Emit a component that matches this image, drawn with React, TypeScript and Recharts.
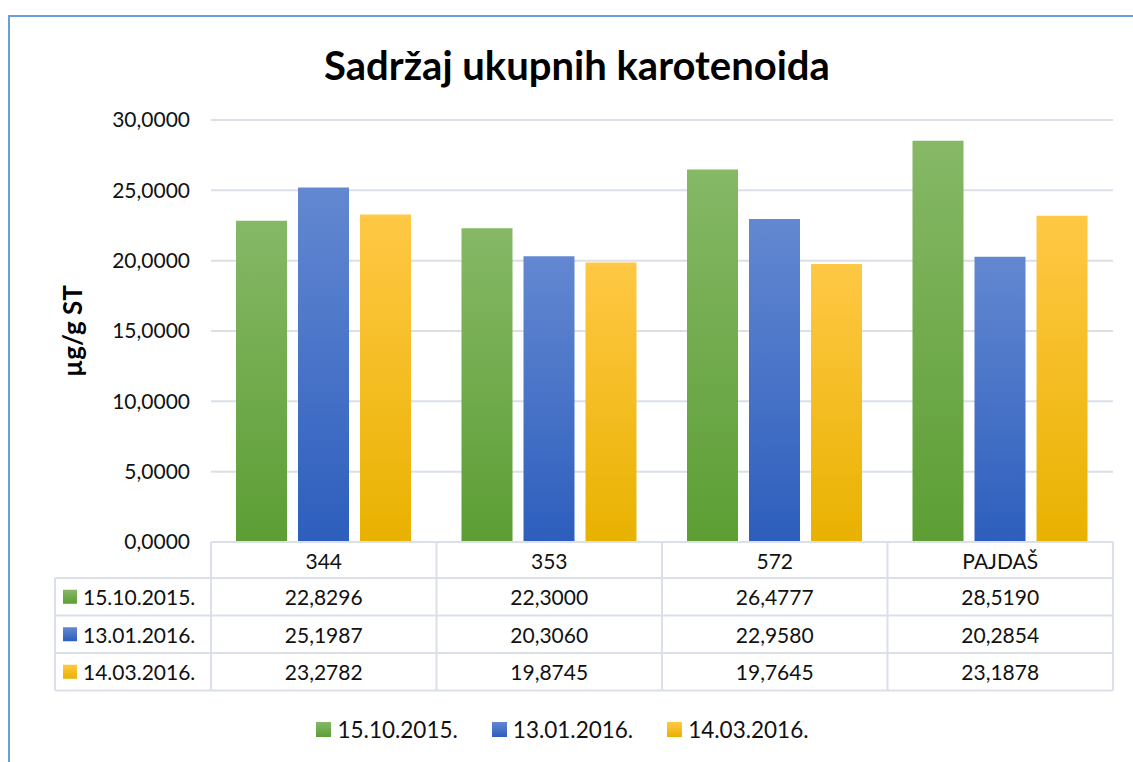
import { Bar, BarChart, CartesianGrid, XAxis, YAxis } from 'recharts'

const categories = ['344', '353', '572', 'PAJDAŠ']
const seriesNames = ['15.10.2015.', '13.01.2016.', '14.03.2016.']
const oct2015 = [22.8296, 22.3, 26.4777, 28.519]
const jan2016 = [25.1987, 20.306, 22.958, 20.2854]
const mar2016 = [23.2782, 19.8745, 19.7645, 23.1878]
const yTicks = [0, 5, 10, 15, 20, 25, 30]

const seriesValues = [oct2015, jan2016, mar2016]
const seriesKeys = ['s0', 's1', 's2']
const gradients = [
  { id: 'gGreen', top: '#86b866', bottom: '#5c9e34' },
  { id: 'gBlue', top: '#6388d1', bottom: '#2d5ebd' },
  { id: 'gGold', top: '#ffc845', bottom: '#e9b200' },
]

const data = categories.map((cat, i) => ({
  cat,
  s0: oct2015[i],
  s1: jan2016[i],
  s2: mar2016[i],
}))

const W = 1133
const H = 762
const PLOT_LEFT = 211
const PLOT_RIGHT = 1113
const PLOT_TOP = 120
const PLOT_BOTTOM = 542
const Y_AXIS_W = 110
const HEADER_H = 36
const ROW_H = 37.5
const TABLE_LEFT = 55
const BAND = (PLOT_RIGHT - PLOT_LEFT) / categories.length
const GRID = '#dadfe8'
const FONT = 'Lato, "Noto Sans", sans-serif'

const fmt = (v: number) => v.toFixed(4).replace('.', ',')

function TableTick(props: any) {
  const { x, payload, index } = props
  const top = PLOT_BOTTOM
  const left = x - BAND / 2
  const right = x + BAND / 2
  const bottom = top + HEADER_H + ROW_H * seriesNames.length
  return (
    <g fontFamily={FONT} fontSize={21} fill="#111">
      <line x1={right} y1={top} x2={right} y2={bottom} stroke={GRID} strokeWidth={2} />
      {index === 0 && (
        <line x1={left} y1={top} x2={left} y2={bottom} stroke={GRID} strokeWidth={2} />
      )}
      <text x={x} y={top + HEADER_H / 2} textAnchor="middle" dominantBaseline="central">
        {payload.value}
      </text>
      {seriesNames.map((name, r) => {
        const rowTop = top + HEADER_H + ROW_H * r
        return (
          <g key={name}>
            <line x1={index === 0 ? TABLE_LEFT : left} y1={rowTop} x2={right} y2={rowTop} stroke={GRID} strokeWidth={2} />
            <text x={x} y={rowTop + ROW_H / 2} textAnchor="middle" dominantBaseline="central">
              {fmt(seriesValues[r][index])}
            </text>
            {index === 0 && (
              <g>
                <rect x={TABLE_LEFT + 8} y={rowTop + ROW_H / 2 - 7} width={14} height={14} fill={`url(#${gradients[r].id})`} />
                <text x={TABLE_LEFT + 28} y={rowTop + ROW_H / 2} dominantBaseline="central">
                  {name}
                </text>
              </g>
            )}
          </g>
        )
      })}
      <line x1={index === 0 ? TABLE_LEFT : left} y1={bottom} x2={right} y2={bottom} stroke={GRID} strokeWidth={2} />
      {index === 0 && (
        <line x1={TABLE_LEFT} y1={top + HEADER_H} x2={TABLE_LEFT} y2={bottom} stroke={GRID} strokeWidth={2} />
      )}
    </g>
  )
}

export default function App() {
  return (
    <div style={{ position: 'absolute', left: 0, top: 0, width: W, height: H, background: '#fff', fontFamily: FONT }}>
      <div
        style={{
          position: 'absolute',
          left: 8,
          top: 15,
          width: W,
          height: H,
          borderLeft: '2px solid #6a9fdc',
          borderTop: '2px solid #6a9fdc',
        }}
      />
      <div
        style={{
          position: 'absolute',
          left: 0,
          width: 1154,
          top: 40,
          textAlign: 'center',
          fontSize: 40,
          lineHeight: '50px',
          fontWeight: 700,
          color: '#000',
        }}
      >
        Sadržaj ukupnih karotenoida
      </div>
      <div
        style={{
          position: 'absolute',
          left: 72,
          top: 331,
          transform: 'translate(-50%, -50%) rotate(-90deg)',
          fontSize: 26,
          fontWeight: 700,
          whiteSpace: 'nowrap',
          color: '#000',
        }}
      >
        µg/g ST
      </div>
      <div style={{ position: 'absolute', left: 0, top: 0 }}>
        <BarChart
          width={W}
          height={H}
          data={data}
          margin={{
            top: PLOT_TOP,
            right: W - PLOT_RIGHT,
            left: PLOT_LEFT - Y_AXIS_W,
            bottom: H - PLOT_BOTTOM - (HEADER_H + ROW_H * 3),
          }}
          barCategoryGap={25}
          barGap={11}
        >
          <defs>
            {gradients.map((g) => (
              <linearGradient key={g.id} id={g.id} x1="0" y1="0" x2="0" y2="1">
                <stop offset="0%" stopColor={g.top} />
                <stop offset="100%" stopColor={g.bottom} />
              </linearGradient>
            ))}
          </defs>
          <CartesianGrid vertical={false} stroke={GRID} strokeWidth={2} />
          <XAxis
            dataKey="cat"
            height={HEADER_H + ROW_H * 3}
            axisLine={{ stroke: GRID, strokeWidth: 2 }}
            tickLine={false}
            tick={<TableTick />}
            interval={0}
          />
          <YAxis
            width={Y_AXIS_W}
            domain={[0, 30]}
            ticks={yTicks}
            tickFormatter={fmt}
            axisLine={false}
            tickLine={false}
            tickMargin={15}
            tick={{ fill: '#111', fontSize: 21, fontFamily: FONT }}
          />
          {seriesKeys.map((k, i) => (
            <Bar key={k} dataKey={k} name={seriesNames[i]} fill={`url(#${gradients[i].id})`} isAnimationActive={false} />
          ))}
        </BarChart>
      </div>
      <div
        style={{
          position: 'absolute',
          left: 0,
          width: 1125,
          top: 716,
          display: 'flex',
          justifyContent: 'center',
          gap: 34,
          fontSize: 22.5,
          color: '#111',
        }}
      >
        {seriesNames.map((name, i) => (
          <div key={name} style={{ display: 'flex', alignItems: 'center', gap: 6 }}>
            <div
              style={{
                width: 15,
                height: 15,
                background: `linear-gradient(${gradients[i].top}, ${gradients[i].bottom})`,
              }}
            />
            <span>{name}</span>
          </div>
        ))}
      </div>
    </div>
  )
}
